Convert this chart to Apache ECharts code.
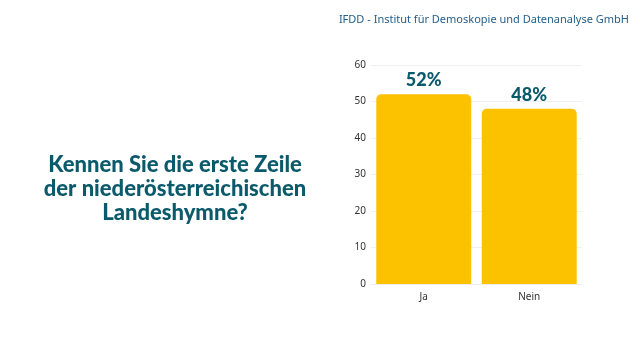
<!DOCTYPE html>
<html><head><meta charset="utf-8">
<script src="https://cdn.jsdelivr.net/npm/echarts@6/dist/echarts.min.js"></script>
<style>html,body{margin:0;padding:0;background:#fff}#c{width:640px;height:360px}</style>
</head><body><div id="c"></div>
<script>
const categories = ["Ja", "Nein"];
const values = [52, 48];
const yTicks = [0, 10, 20, 30, 40, 50, 60];
const titleText = "Kennen Sie die erste Zeile\nder niederösterreichischen\nLandeshymne?";
const sourceText = "IFDD - Institut für Demoskopie und Datenanalyse GmbH";

const chart = echarts.init(document.getElementById('c'), null, {renderer: 'canvas'});
chart.setOption({
  backgroundColor: '#ffffff',
  animation: false,
  title: [
    {text: titleText, left: 170, top: 148, textAlign: 'center',
     textStyle: {fontFamily: 'Lato', fontWeight: 900, fontSize: 22, lineHeight: 24, color: '#0b5a6c', align: 'center'}},
    {text: sourceText, right: 6, top: 9,
     textStyle: {fontFamily: 'Noto Sans', fontWeight: 'normal', fontSize: 11, color: '#25608a'}}
  ],
  grid: {left: 371, right: 58, top: 65, bottom: 76, containLabel: false},
  xAxis: {
    type: 'category', data: categories,
    axisLine: {show: true, lineStyle: {color: '#eeeeee'}},
    axisTick: {show: false},
    axisLabel: {fontFamily: 'Noto Sans', fontSize: 10, color: '#333', margin: 8}
  },
  yAxis: {
    type: 'value', min: yTicks[0], max: yTicks[yTicks.length - 1], interval: 10,
    axisLine: {show: false}, axisTick: {show: false},
    splitLine: {lineStyle: {color: '#f0f0f0'}},
    axisLabel: {fontFamily: 'Noto Sans', fontSize: 10, color: '#333', margin: 5}
  },
  series: [{
    type: 'bar', data: values, barCategoryGap: '10%',
    itemStyle: {color: '#fcc200', borderRadius: [5, 5, 0, 0]},
    label: {show: true, position: 'top', distance: 5, formatter: '{c}%',
      fontFamily: 'Lato', fontWeight: 900, fontSize: 18, color: '#0b5a6c'}
  }]
});
</script></body></html>
